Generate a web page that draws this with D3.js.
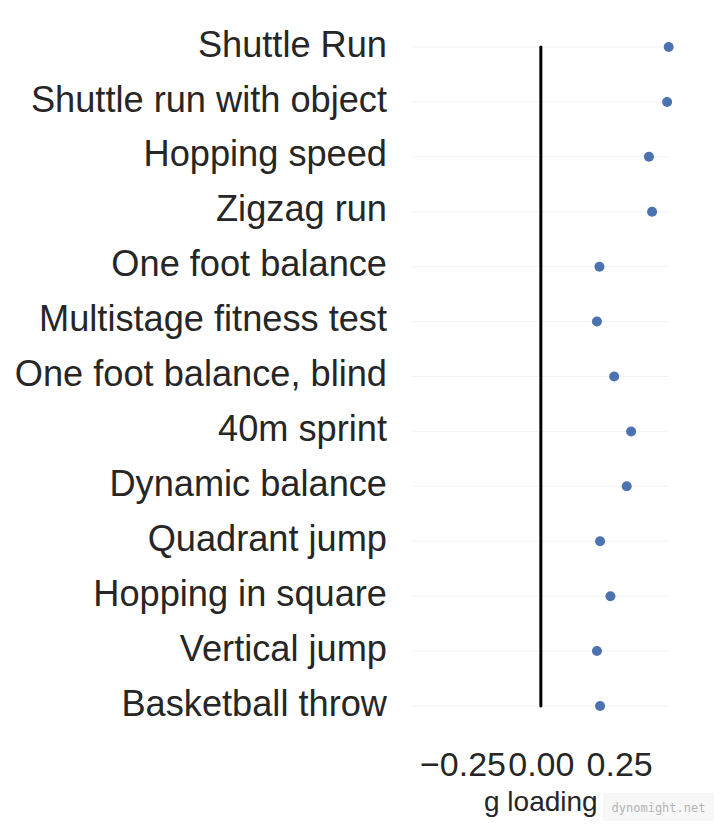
<!DOCTYPE html>
<html>
<head>
<meta charset="utf-8">
<script src="https://cdn.jsdelivr.net/npm/d3@7"></script>
<style>
  html, body { margin: 0; padding: 0; background: #ffffff; }
  svg { display: block; }
</style>
</head>
<body>
<svg id="chart" width="720" height="835"></svg>
<script>
const categories = [
  "Shuttle Run",
  "Shuttle run with object",
  "Hopping speed",
  "Zigzag run",
  "One foot balance",
  "Multistage fitness test",
  "One foot balance, blind",
  "40m sprint",
  "Dynamic balance",
  "Quadrant jump",
  "Hopping in square",
  "Vertical jump",
  "Basketball throw"
];
const gLoading = [0.408, 0.403, 0.345, 0.355, 0.187, 0.179, 0.234, 0.288, 0.274, 0.189, 0.222, 0.179, 0.189];
const xTicks = [-0.25, 0.0, 0.25];
const xLabel = "g loading";
const watermark = "dynomight.net";

const font = "'Liberation Sans', Arial, sans-serif";
const textColor = "#262626";
const dotColor = "#4C72B0";

const svg = d3.select("#chart");
const maxAbs = d3.max(gLoading);

const x = d3.scaleLinear().domain([-maxAbs, maxAbs]).range([413, 668.7]);
const y = d3.scalePoint().domain(categories).range([47, 706]);

// row gridlines
svg.append("g").selectAll("line").data(categories).join("line")
  .attr("x1", x.range()[0]).attr("x2", x.range()[1])
  .attr("y1", d => y(d)).attr("y2", d => y(d))
  .attr("stroke", "#f3f3f3").attr("stroke-width", 1);

// zero line
svg.append("line")
  .attr("x1", x(0)).attr("x2", x(0))
  .attr("y1", y(categories[0])).attr("y2", y(categories[categories.length - 1]))
  .attr("stroke", "#000").attr("stroke-width", 3).attr("stroke-linecap", "round");

// category labels
svg.append("g").selectAll("text").data(categories).join("text")
  .attr("x", 387).attr("y", d => y(d) + 9.6)
  .attr("text-anchor", "end")
  .attr("font-family", font).attr("font-size", 36.2)
  .attr("fill", textColor)
  .text(d => d);

// dots
svg.append("g").selectAll("circle").data(categories).join("circle")
  .attr("cx", (d, i) => x(gLoading[i])).attr("cy", d => y(d))
  .attr("r", 5).attr("fill", dotColor);

// x axis
const axis = d3.axisBottom(x).tickValues(xTicks)
  .tickFormat(d => d3.format(".2f")(d).replace("-", "\u2212"))
  .tickSize(0).tickPadding(0);
const ax = svg.append("g").call(axis);
ax.select(".domain").remove();
ax.selectAll("text")
  .attr("font-family", font).attr("font-size", 34)
  .attr("fill", textColor).attr("y", 776).attr("dy", null);

svg.append("text")
  .attr("x", x(0)).attr("y", 811)
  .attr("text-anchor", "middle")
  .attr("font-family", font).attr("font-size", 28)
  .attr("fill", textColor)
  .text(xLabel);

// watermark
svg.append("rect").attr("x", 603).attr("y", 793).attr("width", 111).attr("height", 28)
  .attr("fill", "#f7f7f7");
svg.append("text")
  .attr("x", 658.5).attr("y", 811.5).attr("text-anchor", "middle")
  .attr("font-family", "'DejaVu Sans Mono', monospace").attr("font-size", 12)
  .attr("fill", "#b4b4b4")
  .text(watermark);
</script>
</body>
</html>
